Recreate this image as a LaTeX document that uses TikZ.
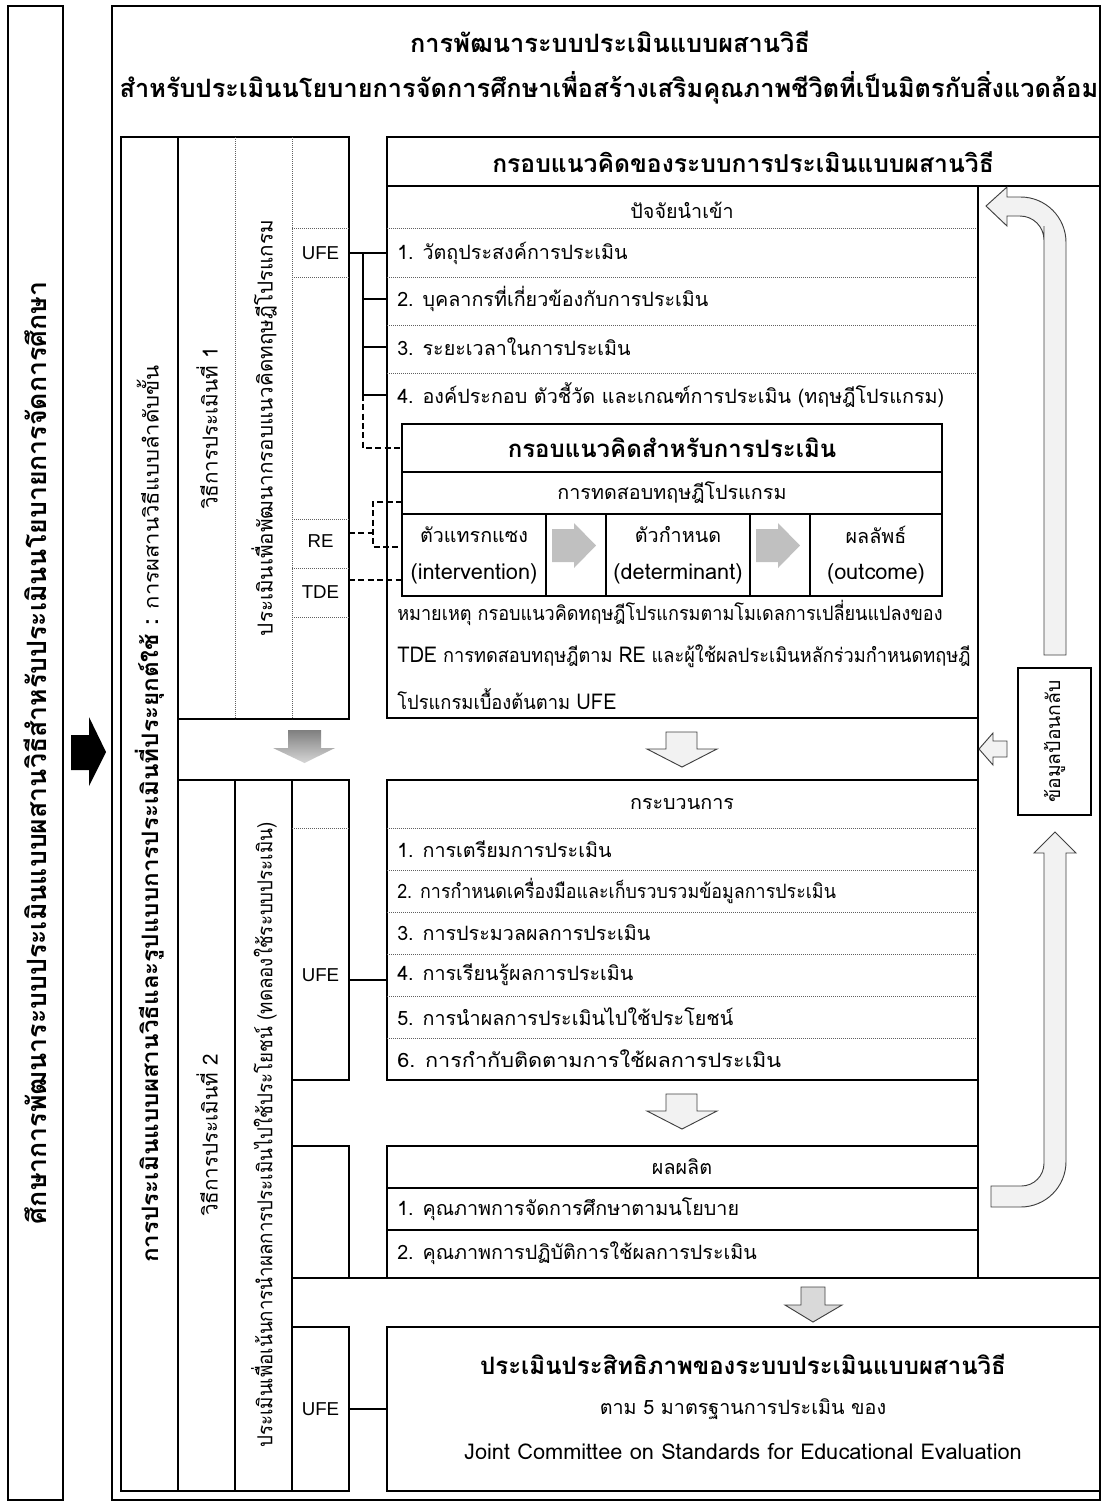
\documentclass[tikz,border=0pt]{standalone}
\usepackage{fontspec}
\newfontfamily\thfont[Script=Thai]{Loma}
\newfontfamily\lafont{Liberation Sans}
\definecolor{arrowfill}{HTML}{F2F2F2}
\definecolor{arrowline}{HTML}{404040}
\definecolor{dotline}{HTML}{606060}
\definecolor{blockgray}{HTML}{C0C0C0}
\definecolor{downfill}{HTML}{D9D9D9}
\definecolor{gradtop}{HTML}{7F7F7F}
\definecolor{gradbot}{HTML}{D6D6D6}

% set a line of text to a given width by squeezing it horizontally
\newsavebox\fitbox
\newdimen\fitdim
\newcommand\fitto[2]{\sbox\fitbox{#2}\fitdim=\wd\fitbox
  \pgfmathsetmacro\fitfac{#1/\the\fitdim}\scalebox{\fitfac}[1]{\usebox\fitbox}}
% Latin words inside Thai text
\newcommand\latn[1]{{\fontsize{16.3}{18}\selectfont #1}}

\begin{document}
\begin{tikzpicture}[x=0.75pt,y=-0.75pt,
  frame/.style={draw,line width=1.5pt},
  dotrule/.style={draw=dotline,line width=0.6pt,dash pattern=on 0.7pt off 0.8pt},
  link/.style={draw,line width=1.1pt},
  dlink/.style={draw,line width=1.1pt,dash pattern=on 4.5pt off 2.5pt},
  hollow/.style={fill=arrowfill,draw=arrowline,line width=0.7pt},
  body/.style={font=\thfont\fontsize{14.8}{17}\selectfont,inner sep=0pt},
  latin/.style={font=\thfont\fontsize{16.3}{18}\selectfont,inner sep=0pt},
  item/.style={body,anchor=west},
  bold/.style={font=\thfont\bfseries\fontsize{18}{21}\selectfont,inner sep=0pt},
  code/.style={font=\lafont\fontsize{14}{16}\selectfont,inner sep=0pt},
  vert/.style={font=\thfont\fontsize{15.5}{18}\selectfont,inner sep=0pt,rotate=90}
]
\useasboundingbox (0,0) rectangle (1108,1504);

% ---------- outer study frame and black arrow ----------
\draw[line width=2pt] (8,6) rectangle (63,1500);
\node[rotate=90,inner sep=0pt,font=\thfont\bfseries\fontsize{20}{22}\selectfont] (study) at (35.5,753)
  {ศึกษาการพัฒนาระบบประเมินแบบผสานวิธีสำหรับประเมินนโยบายการจัดการศึกษา};
\fill (71,735) -- (89,735) -- (89,717) -- (106,752) -- (89,786) -- (89,770) -- (71,770) -- cycle;

% ---------- main frame and titles ----------
\draw[frame] (112,6) rectangle (1100,1500);
\node[bold,font=\thfont\bfseries\fontsize{19}{22}\selectfont] (title1) at (610,42) {การพัฒนาระบบประเมินแบบผสานวิธี};
\node[bold,font=\thfont\bfseries\fontsize{19}{22}\selectfont] (title2) at (609,88)
  {สำหรับประเมินนโยบายการจัดการศึกษาเพื่อสร้างเสริมคุณภาพชีวิตที่เป็นมิตรกับสิ่งแวดล้อม};

% ---------- left method columns ----------
\draw[frame] (121,137) rectangle (178,1491);
\node[vert] (mixed) at (150,814)
  {\fitto{673pt}{{\bfseries\fontsize{17}{19}\selectfont การประเมินแบบผสานวิธีและรูปแบบการประเมินที่ประยุกต์ใช้ :} การผสานวิธีแบบลำดับขั้น}};

% phase 1 block
\draw[frame] (178,137) rectangle (349,719);
\draw[dotrule] (235,137) -- (235,719);
\draw[dotrule] (292,137) -- (292,719);
\draw[dotrule] (292,228) -- (349,228);
\draw[dotrule] (292,277) -- (349,277);
\draw[dotrule] (292,519) -- (349,519);
\draw[dotrule] (292,568) -- (349,568);
\draw[dotrule] (292,617) -- (349,617);
\node[vert] (phase1) at (207,428) {วิธีการประเมินที่ 1};
\node[vert] (aim1) at (264,428) {ประเมินเพื่อพัฒนากรอบแนวคิดทฤษฎีโปรแกรม};
\node[code] (ufeA) at (320.5,253) {UFE};
\node[code] (reA) at (320.5,541) {RE};
\node[code] (tdeA) at (320.5,592) {TDE};

% shaded arrow between phases
\shade[top color=gradtop,bottom color=gradbot]
  (288,730) -- (321,730) -- (321,748) -- (335,748) -- (304.5,763) -- (273,748) -- (288,748) -- cycle;

% phase 2 block
\draw[frame] (178,780) rectangle (235,1491);
\draw[frame] (235,780) rectangle (292,1491);
\draw[frame] (292,780) rectangle (349,1080);
\draw[dotrule] (292,828) -- (349,828);
\draw[frame] (292,1146) -- (349,1146) -- (349,1278);
\draw[frame] (292,1278) -- (1100,1278);
\draw[frame] (292,1327) rectangle (349,1491);
\node[vert] (phase2) at (207,1135) {วิธีการประเมินที่ 2};
\node[vert] (aim2) at (264,1135) {\fitto{469pt}{ประเมินเพื่อเน้นการนำผลการประเมินไปใช้ประโยชน์ (ทดลองใช้ระบบประเมิน)}};
\node[code] (ufeB) at (320.5,975) {UFE};
\node[code] (ufeC) at (320.5,1409) {UFE};

% ---------- framework of the mixed-method system ----------
\draw[frame] (387,137) rectangle (1100,186);
\node[bold,font=\thfont\bfseries\fontsize{18.5}{21}\selectfont] (frameHead) at (743,162) {กรอบแนวคิดของระบบการประเมินแบบผสานวิธี};

% inputs
\draw[frame] (387,186) rectangle (978,718);
\node[body] (inHead) at (682,210) {ปัจจัยนำเข้า};
\foreach \yy in {228,277,325,373} \draw[dotrule] (387,\yy) -- (978,\yy);
\node[item] (in1) at (397,253) {1. วัตถุประสงค์การประเมิน};
\node[item] (in2) at (397,299) {2. บุคลากรที่เกี่ยวข้องกับการประเมิน};
\node[item] (in3) at (397,347) {3. ระยะเวลาในการประเมิน};
\node[item] (in4) at (397,395) {4. องค์ประกอบ ตัวชี้วัด และเกณฑ์การประเมิน (ทฤษฎีโปรแกรม)};

% evaluation framework inside the inputs
\draw[frame] (402,424) rectangle (942,596);
\draw[frame] (402,472) -- (942,472);
\draw[frame] (402,514) -- (942,514);
\node[bold] (evalHead) at (672,448) {กรอบแนวคิดสำหรับการประเมิน};
\node[body] (ptest) at (672,493) {การทดสอบทฤษฎีโปรแกรม};
\draw[frame] (546,514) -- (546,596);
\draw[frame] (606,514) -- (606,596);
\draw[frame] (750,514) -- (750,596);
\draw[frame] (810,514) -- (810,596);
\node[body] (interv) at (474,535) {ตัวแทรกแซง};
\node[latin] (intervEn) at (474,574) {(intervention)};
\node[body] (determ) at (678,535) {ตัวกำหนด};
\node[latin] (determEn) at (678,574) {(determinant)};
\node[body] (outcm) at (876,535) {ผลลัพธ์};
\node[latin] (outcmEn) at (876,574) {(outcome)};
\fill[blockgray] (552,529) -- (574,529) -- (574,523) -- (596,545.5) -- (574,568) -- (574,562) -- (552,562) -- cycle;
\fill[blockgray] (756,529) -- (778,529) -- (778,523) -- (800,545.5) -- (778,568) -- (778,562) -- (756,562) -- cycle;
\node[item] (note1) at (397,613) {\fitto{409pt}{หมายเหตุ กรอบแนวคิดทฤษฎีโปรแกรมตามโมเดลการเปลี่ยนแปลงของ}};
\node[item] (note2) at (397,656) {\fitto{430pt}{\latn{TDE} การทดสอบทฤษฎีตาม \latn{RE} และผู้ใช้ผลประเมินหลักร่วมกำหนดทฤษฎี}};
\node[item] (note3) at (397,699) {\scalebox{0.93}[1]{โปรแกรมเบื้องต้นตาม \latn{UFE}}};

% connectors from the phase 1 approaches
\coordinate (ufeAout) at (349,253);
\coordinate (ufeAbus) at (363,253);
\coordinate (inEdge1) at (387,253);
\coordinate (inEdge2) at (387,299);
\coordinate (inEdge3) at (387,347);
\coordinate (inEdge4) at (387,395);
\coordinate (busEnd) at (363,395);
\coordinate (busFrame) at (363,448);
\coordinate (evalEdge) at (402,448);
\draw[link] (ufeAout) -- (inEdge1);
\draw[link] (ufeAbus) -- (busEnd);
\draw[link] (ufeAbus |- inEdge2) -- (inEdge2);
\draw[link] (ufeAbus |- inEdge3) -- (inEdge3);
\draw[link] (busEnd) -- (inEdge4);
\draw[dlink] (busEnd) -- (busFrame) -- (evalEdge);

\coordinate (reOut) at (349,533);
\coordinate (reBus) at (373,533);
\coordinate (reTop) at (373,502);
\coordinate (reBot) at (373,547);
\coordinate (ptestEdge) at (402,502);
\coordinate (intervEdge) at (402,547);
\draw[dlink] (reOut) -- (reBus);
\draw[dlink] (ptestEdge) -- (reTop) -- (reBot) -- (intervEdge);
\coordinate (tdeOut) at (349,580);
\coordinate (tdeIn) at (402,580);
\draw[dlink] (tdeOut) -- (tdeIn);

% arrow inputs -> process
\draw[hollow] (666,732) -- (697,732) -- (697,749) -- (717,749) -- (682,767) -- (647,749) -- (666,749) -- cycle;

% process
\draw[frame] (387,780) rectangle (978,1080);
\node[body] (procHead) at (682,804) {กระบวนการ};
\foreach \yy in {828,870,912,954,996,1038} \draw[dotrule] (387,\yy) -- (978,\yy);
\node[item] (pr1) at (397,849) {1. การเตรียมการประเมิน};
\node[item] (pr2) at (397,891) {\fitto{329pt}{2. การกำหนดเครื่องมือและเก็บรวบรวมข้อมูลการประเมิน}};
\node[item] (pr3) at (397,933) {3. การประมวลผลการประเมิน};
\node[item] (pr4) at (397,975) {4. การเรียนรู้ผลการประเมิน};
\node[item] (pr5) at (397,1017) {5. การนำผลการประเมินไปใช้ประโยชน์};
\node[item] (pr6) at (397,1059) {\fitto{288pt}{6. การกำกับติดตามการใช้ผลการประเมิน}};
\coordinate (ufeBout) at (349,980);
\coordinate (procEdge) at (387,980);
\draw[link] (ufeBout) -- (procEdge);

% arrow process -> outputs
\draw[hollow] (666,1094) -- (697,1094) -- (697,1111) -- (717,1111) -- (682,1129) -- (647,1111) -- (666,1111) -- cycle;

% outputs
\draw[frame] (387,1146) rectangle (978,1278);
\draw[frame] (387,1188) -- (978,1188);
\draw[frame] (387,1230) -- (978,1230);
\node[body] (outHead) at (682,1167) {ผลผลิต};
\node[item] (out1) at (397,1209) {1. คุณภาพการจัดการศึกษาตามนโยบาย};
\node[item] (out2) at (397,1253) {2. คุณภาพการปฏิบัติการใช้ผลการประเมิน};

% arrow outputs -> effectiveness
\draw[fill=downfill,draw=arrowline,line width=0.7pt]
  (801,1287) -- (825,1287) -- (825,1305) -- (842,1305) -- (813,1322) -- (785,1305) -- (801,1305) -- cycle;

% effectiveness
\draw[frame] (387,1327) rectangle (1100,1491);
\node[bold] (effHead) at (743,1364) {ประเมินประสิทธิภาพของระบบประเมินแบบผสานวิธี};
\node[body] (eff2) at (743,1409) {ตาม 5 มาตรฐานการประเมิน ของ};
\node[latin] (eff3) at (743,1452) {Joint Committee on Standards for Educational Evaluation};
\coordinate (ufeCout) at (349,1409);
\coordinate (effEdge) at (387,1409);
\draw[link] (ufeCout) -- (effEdge);

% ---------- feedback column ----------
\draw[frame] (978,186) -- (978,1278);
\draw[line width=0.9pt] (1018,668) rectangle (1091,815);
\node[vert,font=\thfont\fontsize{14.5}{17}\selectfont] (feedback) at (1054.5,741.5) {ข้อมูลป้อนกลับ};
\draw[hollow] (1044,655) -- (1044,226) [rounded corners=18pt] -- (1044,216) [sharp corners] -- (1007,216) -- (1007,226)
  -- (986,206) -- (1007,187) -- (1007,197) [rounded corners=34pt] -- (1066,197) [sharp corners] -- (1066,655) -- cycle;
\draw[hollow] (979,749) -- (993,733) -- (993,741) -- (1007,741) -- (1007,757) -- (993,757) -- (993,765) -- cycle;
\draw[hollow] (1044,853) [rounded corners=17pt] -- (1044,1186) [sharp corners] -- (991,1186) -- (991,1207)
  [rounded corners=34pt] -- (1066,1207) [sharp corners] -- (1066,853) -- (1076,853) -- (1055,832) -- (1034,853) -- cycle;
\end{tikzpicture}
\end{document}
